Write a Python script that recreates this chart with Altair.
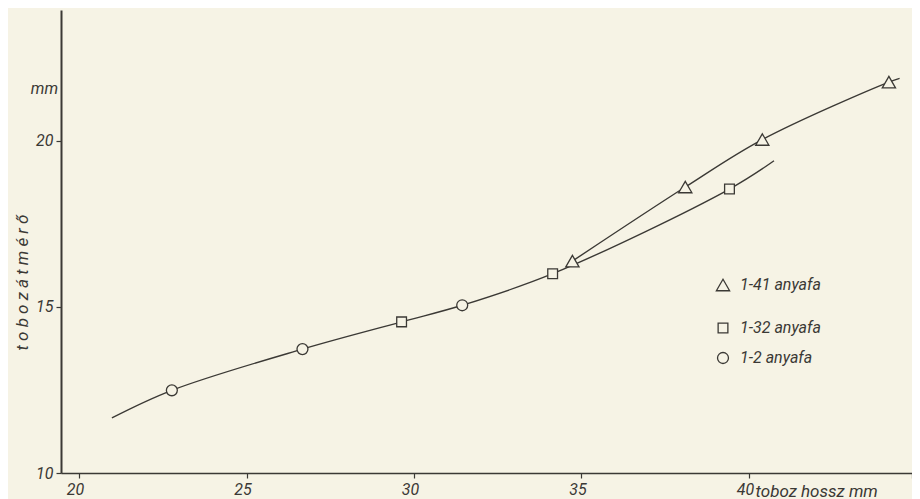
import altair as alt
import pandas as pd

BG = "#f6f3e5"
INK = "#3b3935"
FONT = "Roboto"

# ---- data ----
series_names = ["1-41 anyafa", "1-32 anyafa", "1-2 anyafa"]
series_shapes = ["triangle-up", "square", "circle"]
series_sizes = [175, 95, 120]

circle_x = [22.77, 26.67, 31.44]
circle_y = [12.49, 13.73, 15.05]
square_x = [29.63, 34.14, 39.42]
square_y = [14.55, 16.00, 18.55]
triangle_x = [34.73, 38.10, 40.40, 44.18]
triangle_y = [16.38, 18.61, 20.04, 21.77]

lower_curve_x = [20.98, 22.77, 26.67, 29.63, 31.44, 34.14, 39.42, 40.75]
lower_curve_y = [11.66, 12.49, 13.73, 14.55, 15.05, 16.00, 18.55, 19.40]
upper_curve_x = [34.73, 38.10, 40.40, 44.18, 44.50]
upper_curve_y = [16.38, 18.61, 20.04, 21.77, 21.88]

x_ticks = [20, 25, 30, 35, 40, 44.87]
y_ticks = [10, 15, 20]
x_domain = [19.46, 44.87]
y_domain = [10, 23.94]

# ---- layout constants (legend placement, pixels inside the plot) ----
LEG_SYMBOL_X = 662
LEG_TEXT_X = 679
LEG_ROW_Y = [275, 318, 348]

# ---- tables ----
series_points = [
    pd.DataFrame({"x": triangle_x, "y": triangle_y, "s": series_names[0]}),
    pd.DataFrame({"x": square_x, "y": square_y, "s": series_names[1]}),
    pd.DataFrame({"x": circle_x, "y": circle_y, "s": series_names[2]}),
]

curves = pd.concat([
    pd.DataFrame({"x": lower_curve_x, "y": lower_curve_y, "c": "lower"}),
    pd.DataFrame({"x": upper_curve_x, "y": upper_curve_y, "c": "upper"}),
], ignore_index=True)

mm_df = pd.DataFrame({"x": [x_domain[0]], "y": [21.56], "t": ["mm"]})

x_scale = alt.Scale(domain=x_domain, nice=False, zero=False)
y_scale = alt.Scale(domain=y_domain, nice=False, zero=False)

x_axis = alt.Axis(
    values=x_ticks,
    labelExpr="datum.value > 41 ? '' : datum.label",
    grid=False, tickSize=5, tickColor=INK, tickWidth=1.2,
    domainColor=INK, domainWidth=1.6,
    labelFont=FONT, labelFontStyle="italic", labelFontSize=16, labelColor=INK,
    labelPadding=3, labelOffset=-4,
    title="toboz hossz mm", titleX=694, titleY=18, titleAlign="left",
    titleBaseline="middle", titleFont=FONT, titleFontStyle="italic",
    titleFontWeight="normal", titleFontSize=17, titleColor=INK,
)
y_axis = alt.Axis(
    values=y_ticks, format="d",
    grid=False, tickSize=5, tickColor=INK, tickWidth=1.2,
    domainColor=INK, domainWidth=2,
    labelFont=FONT, labelFontStyle="italic", labelFontSize=16, labelColor=INK,
    labelPadding=3,
    title="t o b o z   á t m é r ő", titleX=-39, titleY=272, titleAngle=270,
    titleAlign="center", titleBaseline="middle", titleFont=FONT,
    titleFontStyle="italic", titleFontWeight="normal", titleFontSize=17,
    titleColor=INK,
)

X = alt.X("x:Q", scale=x_scale, axis=x_axis)
Y = alt.Y("y:Q", scale=y_scale, axis=y_axis)

lines = alt.Chart(curves).mark_line(
    interpolate="catmull-rom", color=INK, strokeWidth=1.4
).encode(x=X, y=Y, detail="c:N")

point_layers = []
for df, shape, size in zip(series_points, series_shapes, series_sizes):
    point_layers.append(
        alt.Chart(df).mark_point(
            filled=True, fill=BG, stroke=INK, strokeWidth=1.3, opacity=1,
            size=size, shape=shape,
        ).encode(x=X, y=Y)
    )

mm_text = alt.Chart(mm_df).mark_text(
    align="right", baseline="middle", dx=-3, font=FONT, fontStyle="italic",
    fontSize=16, color=INK,
).encode(x=X, y=Y, text="t:N")

# ---- hand-built legend (uneven row spacing as in the original) ----
legend_layers = []
for name, shape, size, ly in zip(series_names, series_shapes, series_sizes, LEG_ROW_Y):
    row = pd.DataFrame({"s": [name]})
    legend_layers.append(
        alt.Chart(row).mark_point(
            filled=True, fill=BG, stroke=INK, strokeWidth=1.3, opacity=1,
            size=size, shape=shape,
        ).encode(x=alt.value(LEG_SYMBOL_X), y=alt.value(ly))
    )
    legend_layers.append(
        alt.Chart(row).mark_text(
            align="left", baseline="middle", font=FONT, fontStyle="italic",
            fontSize=16, color=INK,
        ).encode(x=alt.value(LEG_TEXT_X), y=alt.value(ly), text="s:N")
    )

chart = alt.layer(lines, *point_layers, mm_text, *legend_layers).properties(
    width=851, height=463, background=BG,
    padding={"left": 53, "top": 2, "right": 0, "bottom": 26},
    autosize=alt.AutoSizeParams(type="none"),
).configure_view(stroke=None)

chart.save("out.html", embed_options={"renderer": "svg", "actions": False})
